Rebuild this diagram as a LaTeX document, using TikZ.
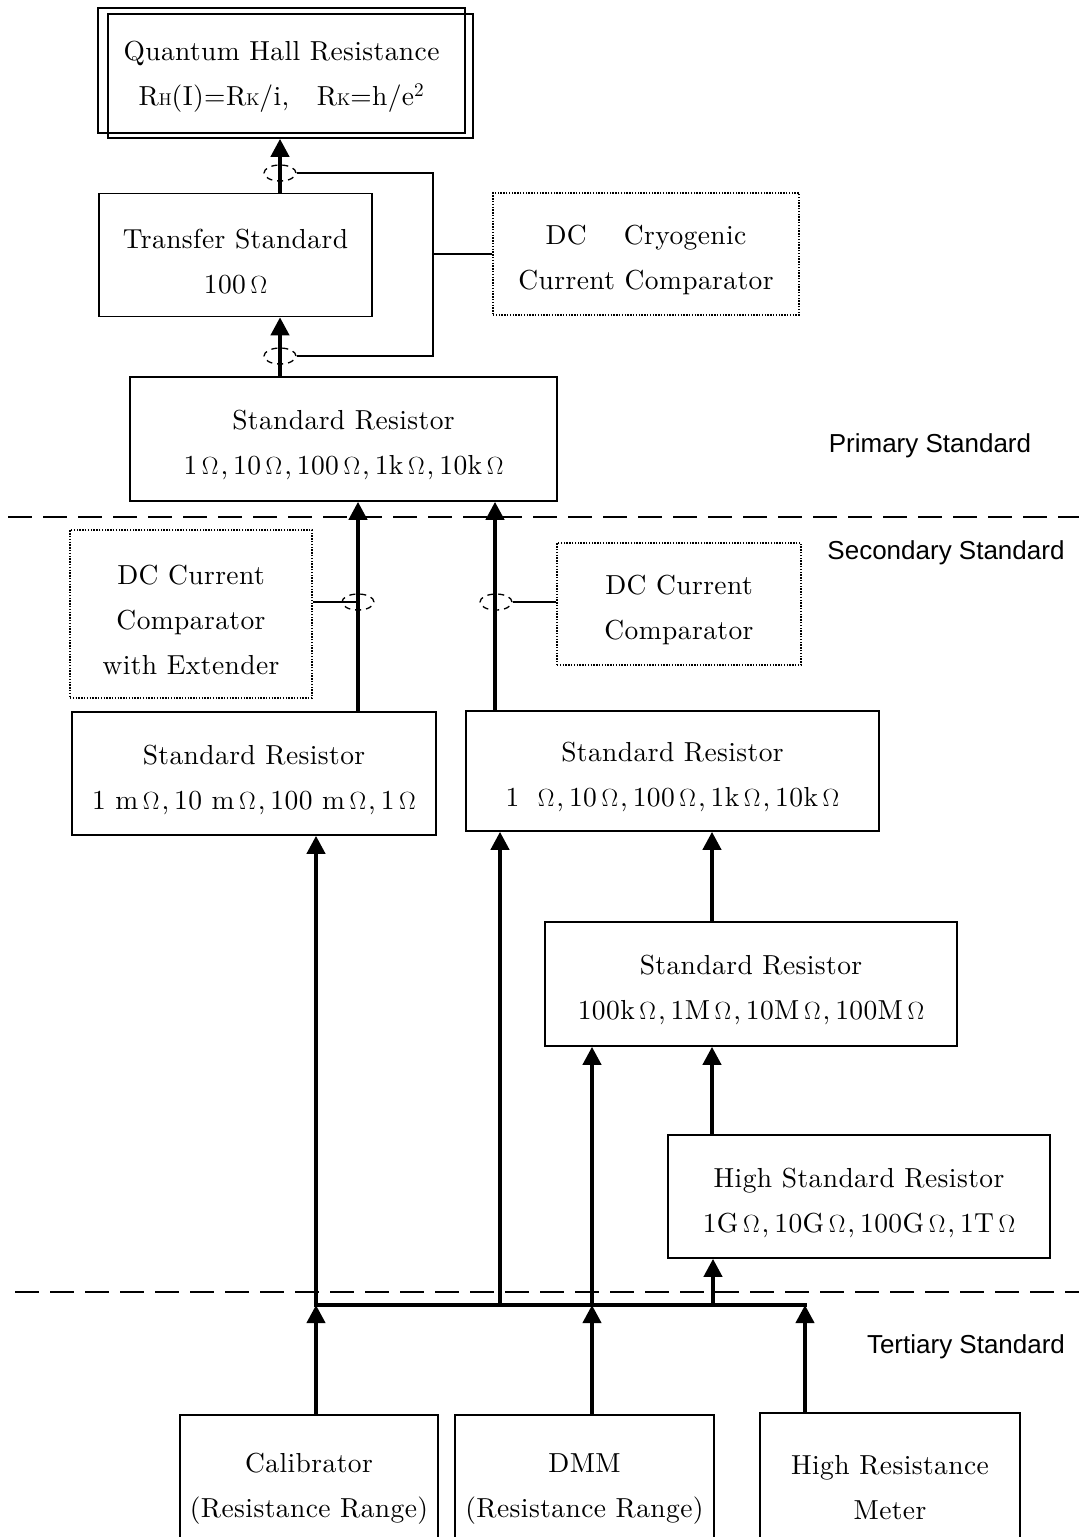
\documentclass[tikz,border=0pt]{standalone}
\usepackage{fontspec}
\setmainfont{lmroman10-regular}[Extension=.otf,LetterSpace=1.5]
\newfontfamily\lsans{Liberation Sans}
\usetikzlibrary{arrows.meta,shapes.geometric}
\newcommand\rmtext{\fontsize{27.5}{45}\selectfont}
\newcommand\smcap{\fontsize{17}{17}\selectfont}
\newcommand\myohm{$\Omega$}
\newcommand\sepc{\kern2pt,\kern5pt}
% tall strut on the first line: sets the text a little lower in its box
\newcommand\firstln{\rule{0pt}{32pt}}
\begin{document}
\begin{tikzpicture}[x=1pt,y=-1pt,
  box/.style={draw,line width=1.6pt,rectangle,inner sep=0pt,align=center,font=\rmtext},
  dotbox/.style={box,dash pattern=on 1.4pt off 1.4pt,line width=1.9pt},
  arr/.style={line width=4pt,-{Triangle[width=18pt,length=18pt]}},
  busline/.style={line width=4pt,line cap=rect},
  thinline/.style={line width=1.5pt},
  ell/.style={draw,ellipse,dash pattern=on 6pt off 5pt,line width=1.3pt,minimum width=32,minimum height=16,inner sep=0pt},
  sep/.style={line width=1.4pt,dash pattern=on 24pt off 11pt},
  lvl/.style={font=\lsans\fontsize{26}{30}\selectfont,inner sep=0pt}
]
\useasboundingbox (0,0) rectangle (1079,1537);

% column coordinates for the vertical connectors
\coordinate (x280) at (280,0);
\coordinate (x358) at (358,0);
\coordinate (x495) at (495,0);
\coordinate (x712) at (712,0);
\coordinate (loop) at (433,254);

% boxes
\node[box,minimum width=365,minimum height=124] (qhrB) at (290.5,76) {};
\node[box,minimum width=367,minimum height=125] (qhr) at (281.5,70.5)
  {\firstln Quantum Hall Resistance\\ R{\smcap H}(I)=R{\smcap K}/i,\quad R{\smcap K}=h/e\textsuperscript{2}};
\node[box,minimum width=273,minimum height=123] (ts) at (235.5,255)
  {\firstln Transfer Standard\\ 100\,\myohm};
\node[dotbox,minimum width=306,minimum height=122] (cryo) at (646,254)
  {\firstln DC\quad\ Cryogenic\\ Current Comparator};
\node[box,minimum width=427,minimum height=124] (sr1) at (343.5,439)
  {\firstln Standard Resistor\\ 1\,\myohm\sepc 10\,\myohm\sepc 100\,\myohm\sepc 1k\,\myohm\sepc 10k\,\myohm};
\node[dotbox,minimum width=242,minimum height=168] (ccx) at (191,614)
  {\firstln DC Current\\ Comparator\\ with Extender};
\node[dotbox,minimum width=244,minimum height=122] (ccr) at (679,604)
  {\firstln DC Current\\ Comparator};
\node[box,minimum width=364,minimum height=123] (srL) at (254,773.5)
  {\firstln Standard Resistor\\ 1 m\,\myohm\sepc 10 m\,\myohm\sepc 100 m\,\myohm\sepc 1\,\myohm};
\node[box,minimum width=413,minimum height=120] (srR) at (672.5,771)
  {\firstln Standard Resistor\\ 1\enspace\,\myohm\sepc 10\,\myohm\sepc 100\,\myohm\sepc 1k\,\myohm\sepc 10k\,\myohm};
\node[box,minimum width=412,minimum height=124] (sr3) at (751,984)
  {\firstln Standard Resistor\\ 100k\,\myohm\sepc 1M\,\myohm\sepc 10M\,\myohm\sepc 100M\,\myohm};
\node[box,minimum width=382,minimum height=123] (hsr) at (859,1196.5)
  {\firstln High Standard Resistor\\ 1G\,\myohm\sepc 10G\,\myohm\sepc 100G\,\myohm\sepc 1T\,\myohm};
\node[box,minimum width=258,minimum height=134] (cal) at (309,1482)
  {\firstln Calibrator\\ (Resistance Range)};
\node[box,minimum width=259,minimum height=134] (dmm) at (584.5,1482)
  {\firstln DMM\\ (Resistance Range)};
\node[box,minimum width=260,minimum height=136] (hrm) at (890,1481)
  {\firstln High Resistance\\ Meter};

% level labels and separators
\node[lvl] (lp) at (930,446) {Primary Standard};
\node[lvl] (ls) at (946,553) {Secondary Standard};
\node[lvl] (lt) at (966,1347) {Tertiary Standard};
\draw[sep] (8,517) -- (1079,517);
\draw[sep] (15,1292) -- (1079,1292);

% bus joining the tertiary instruments
\coordinate (busA) at (316,1305);
\coordinate (busB) at (500,1305);
\coordinate (busC) at (592,1305);
\coordinate (busD) at (713,1305);
\coordinate (busE) at (805,1305);
\draw[busline] (busA) -- (busE);

% traceability arrows
\draw[arr] (ts.north -| x280) -- (qhrB.south -| x280);
\draw[arr] (sr1.north -| x280) -- (ts.south -| x280);
\draw[arr] (srL.north -| x358) -- (sr1.south -| x358);
\draw[arr] (srR.north -| x495) -- (sr1.south -| x495);
\draw[arr] (busA) -- (srL.south -| busA);
\draw[arr] (busB) -- (srR.south -| busB);
\draw[arr] (busC) -- (sr3.south -| busC);
\draw[arr] (busD) -- (hsr.south -| busD);
\draw[arr] (hsr.north -| x712) -- (sr3.south -| x712);
\draw[arr] (sr3.north -| x712) -- (srR.south -| x712);
\draw[arr] (cal.north -| busA) -- (busA);
\draw[arr] (dmm.north -| busC) -- (busC);
\draw[arr] (hrm.north -| busE) -- (busE);

% comparator windings round the arrows
\node[ell] (e1) at (280,173) {};
\node[ell] (e2) at (280,356) {};
\node[ell] (e3) at (358,602) {};
\node[ell] (e4) at (496,602) {};

% comparator connections
\draw[thinline] (e1.east) -| (loop) |- (e2.east);
\draw[thinline] (loop) -- (cryo.west |- loop);
\draw[thinline] (e3.center -| ccx.east) -- (e3.center);
\draw[thinline] (e4.east) -- (e4.east -| ccr.west);
\end{tikzpicture}
\end{document}
